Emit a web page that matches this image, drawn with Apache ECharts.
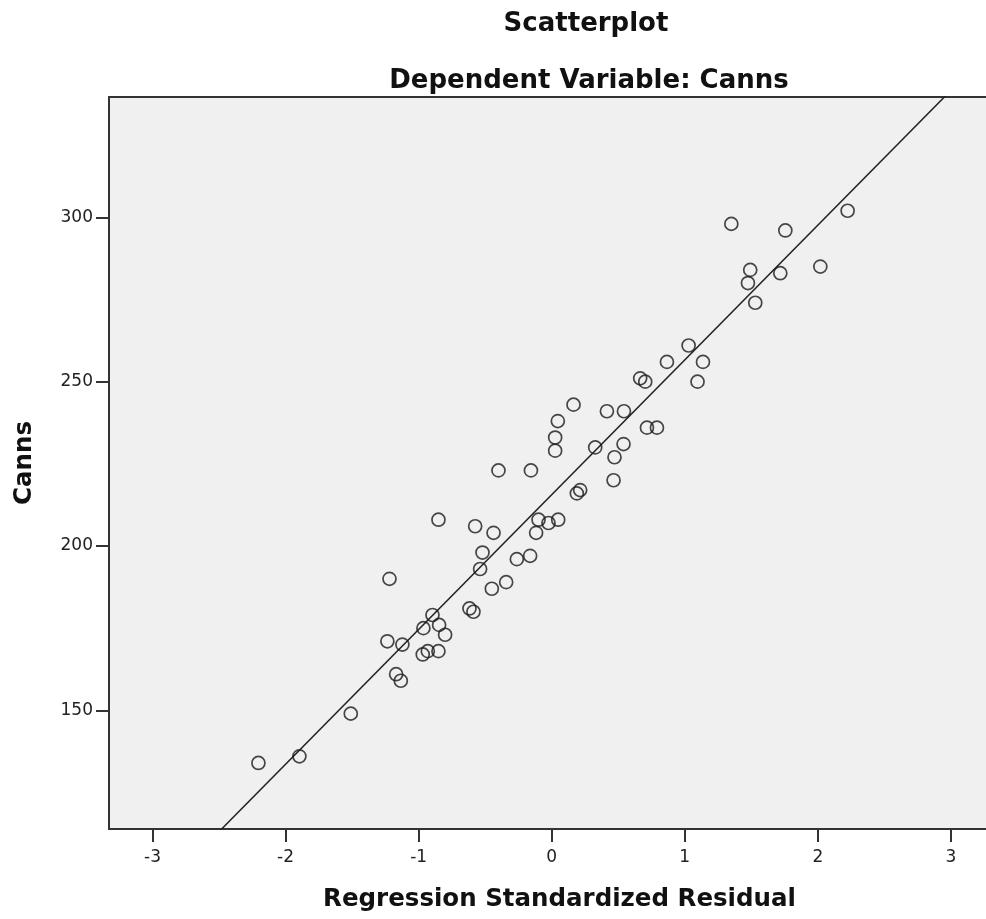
<!DOCTYPE html>
<html>
<head>
<meta charset="utf-8">
<title>Scatterplot</title>
<script src="https://cdn.jsdelivr.net/npm/echarts@6/dist/echarts.min.js"></script>
<style>
  html, body { margin: 0; padding: 0; background: #ffffff; overflow: hidden; }
  #chart { width: 986px; height: 919px; }
</style>
</head>
<body>
<div id="chart"></div>
<script>
// Regression standardized residual (x) against observed Canns (y)
const residuals = [
  -2.204, -1.896, -1.510, -1.169, -1.134, -1.235, -1.122, -1.219, -0.969, -0.931,
  -0.851, -0.964, -0.896, -0.846, -0.801, -0.618, -0.588, -0.851, -0.575, -0.437,
  -0.520, -0.538, -0.450, -0.342, -0.262, -0.162, -0.400, -0.156, -0.099, -0.117,
  -0.024, 0.049, 0.189, 0.214, 0.026, 0.026, 0.046, 0.164, 0.327, 0.415,
  0.543, 0.540, 0.472, 0.465, 0.716, 0.791, 0.665, 0.703, 0.866, 1.029,
  1.137, 1.096, 1.350, 1.756, 2.224, 2.019, 1.492, 1.475, 1.718, 1.530
];
const canns = [
  134, 136, 149, 161, 159, 171, 170, 190, 167, 168,
  168, 175, 179, 176, 173, 181, 180, 208, 206, 204,
  198, 193, 187, 189, 196, 197, 223, 223, 208, 204,
  207, 208, 216, 217, 229, 233, 238, 243, 230, 241,
  241, 231, 227, 220, 236, 236, 251, 250, 256, 261,
  256, 250, 298, 296, 302, 285, 284, 280, 283, 274
];

// Fit line end points (clipped to the plot area)
const fitLine = [[-3.4, 76.2], [3.4, 355.0]];

// Axis ranges and tick labels
const xRange = [-3.327, 3.264];
const yRange = [113.9, 336.6];
const xTicks = [-3, -2, -1, 0, 1, 2, 3];
const yTicks = [150, 200, 250, 300];

const points = residuals.map((r, i) => [r, canns[i]]);

const boldFont = 'DejaVu Sans';
const frameColor = '#333333';
const chart = echarts.init(document.getElementById('chart'), null, { renderer: 'canvas' });

chart.setOption({
  animation: false,
  backgroundColor: '#ffffff',
  title: [
    {
      text: 'Scatterplot',
      left: 581, top: 6, textAlign: 'center',
      textStyle: { fontFamily: boldFont, fontWeight: 'bold', fontSize: 26, color: '#111111' }
    },
    {
      text: 'Dependent Variable: Canns',
      left: 584, top: 63, textAlign: 'center',
      textStyle: { fontFamily: boldFont, fontWeight: 'bold', fontSize: 26, color: '#111111' }
    }
  ],
  grid: {
    left: 109, top: 97, right: 0, bottom: 90,
    show: true,
    backgroundColor: '#f0f0f0',
    borderWidth: 0,
    containLabel: false
  },
  xAxis: [
    {
      type: 'value',
      min: xRange[0], max: xRange[1],
      name: 'Regression Standardized Residual',
      nameLocation: 'middle',
      nameGap: 58,
      nameTextStyle: {
        fontFamily: boldFont, fontWeight: 'bold', fontSize: 24.5, color: '#111111',
        padding: [0, 0, 0, 24]
      },
      splitLine: { show: false },
      axisLine: { show: true, onZero: false, lineStyle: { color: frameColor, width: 2 } },
      axisTick: {
        show: true, length: 13, customValues: xTicks,
        lineStyle: { color: frameColor, width: 2 }
      },
      axisLabel: {
        customValues: xTicks,
        margin: 20,
        fontFamily: 'DejaVu Sans', fontSize: 17, color: '#222222',
        formatter: v => String(v)
      }
    },
    {
      // top frame edge of the plot area
      type: 'value',
      position: 'top',
      min: xRange[0], max: xRange[1],
      splitLine: { show: false },
      axisLine: { show: true, onZero: false, lineStyle: { color: frameColor, width: 2 } },
      axisTick: { show: false },
      axisLabel: { show: false }
    }
  ],
  yAxis: {
    type: 'value',
    min: yRange[0], max: yRange[1],
    name: 'Canns',
    nameLocation: 'middle',
    nameGap: 72,
    nameTextStyle: { fontFamily: boldFont, fontWeight: 'bold', fontSize: 24.5, color: '#111111' },
    splitLine: { show: false },
    axisLine: { show: true, onZero: false, lineStyle: { color: frameColor, width: 2 } },
    axisTick: {
      show: true, length: 13, customValues: yTicks,
      lineStyle: { color: frameColor, width: 2 }
    },
    axisLabel: {
      customValues: yTicks,
      margin: 16,
      padding: [6, 0, 0, 0],
      fontFamily: 'DejaVu Sans', fontSize: 17, color: '#222222',
      formatter: v => String(v)
    }
  },
  series: [
    {
      type: 'line',
      data: fitLine,
      showSymbol: false,
      clip: true,
      silent: true,
      lineStyle: { color: '#222222', width: 1.5 },
      z: 2
    },
    {
      type: 'scatter',
      data: points,
      symbol: 'circle',
      symbolSize: 13,
      clip: true,
      itemStyle: { color: 'rgba(0,0,0,0)', borderColor: '#1a1a1a', borderWidth: 1.7 },
      z: 3
    }
  ]
});
</script>
</body>
</html>
